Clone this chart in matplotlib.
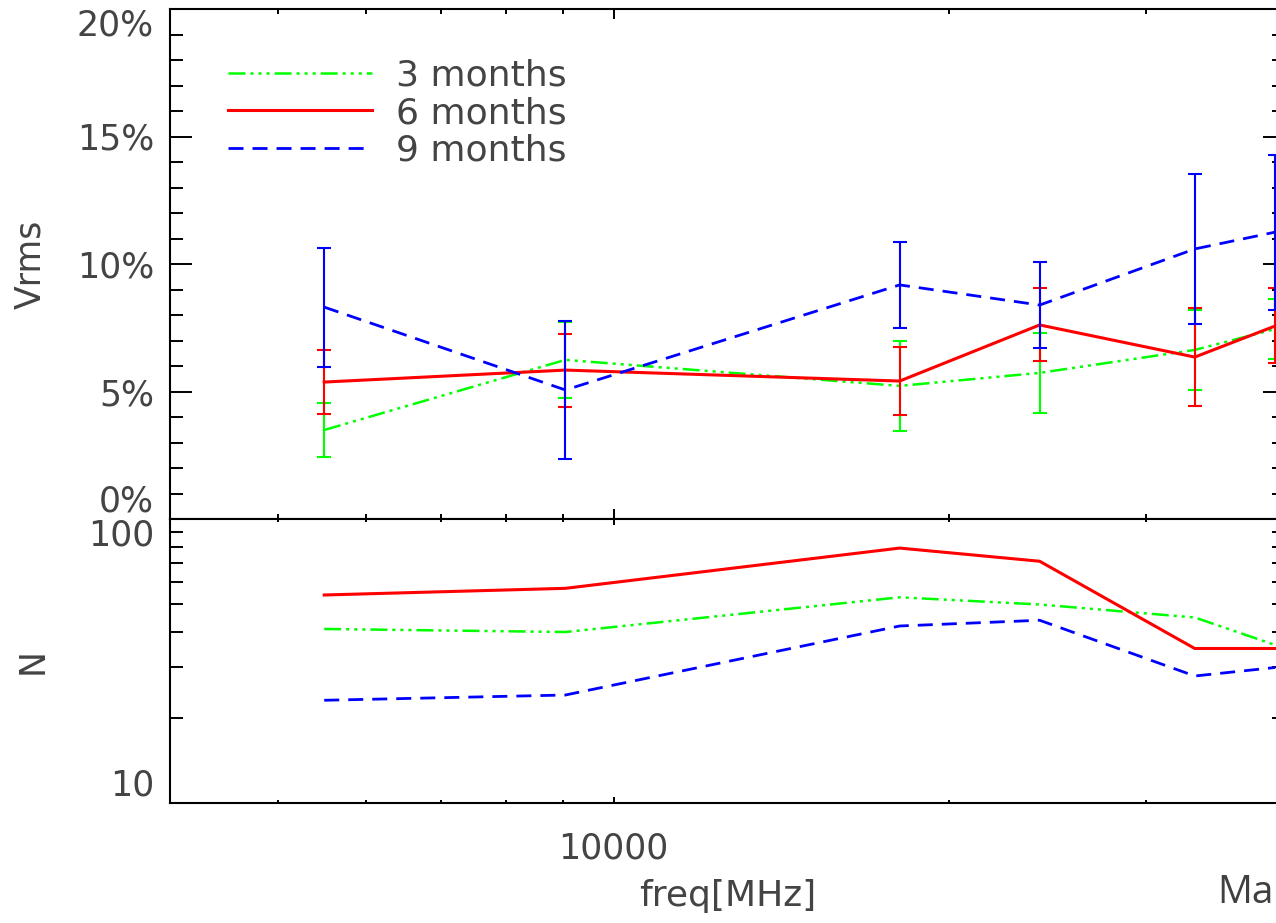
import numpy as np
import matplotlib
matplotlib.use('Agg')
import matplotlib.pyplot as plt
from matplotlib.ticker import FixedLocator, LogLocator, NullFormatter, MultipleLocator

# frequencies of the sample points [MHz]
freq = [5500, 9050, 18050, 24100, 33200, 39200]

# Vrms [%] and 1-sigma errors
vrms_3m = [3.49, 6.24, 5.22, 5.73, 6.63, 7.45]
err_3m = [1.04, 1.49, 1.75, 1.57, 1.57, 1.18]
vrms_6m = [5.37, 5.84, 5.41, 7.61, 6.35, 7.57]
err_6m = [1.24, 1.43, 1.33, 1.43, 1.92, 1.47]
vrms_9m = [8.31, 5.06, 9.18, 8.39, 10.59, 11.25]
err_9m = [2.33, 2.71, 1.69, 1.67, 2.94, 3.04]

# number of sources N
n_3m = [41, 40, 53, 50, 45, 36]
n_6m = [54, 57, 79, 71, 35, 35]
n_9m = [23, 24, 42, 44, 28, 30]

labels = ['3 months', '6 months', '9 months']
colors = ['#00ff00', '#ff0000', '#0000ff']

plt.rcParams['font.family'] = ['DejaVu Sans']
plt.rcParams['lines.scale_dashes'] = False
txt_col = '#444444'
fs = 25

# IDL-ish line styles (dash patterns in points)
styles = [(0, (12.2, 3.6, 2.2, 3.6, 2.2, 3.6, 2.2, 3.6)),
          '-',
          (0, (10.8, 6.5))]
widths = [1.8, 2.2, 2.0]

W, H = 1276, 923
fig = plt.figure(figsize=(W / 100, H / 100), dpi=100)
ax1 = fig.add_axes([170 / W, 1 - 519 / H, 1115 / W, 510 / H])
ax2 = fig.add_axes([170 / W, 1 - 803 / H, 1115 / W, 284 / H])

# ---- top panel: Vrms
series = [(vrms_3m, err_3m), (vrms_6m, err_6m), (vrms_9m, err_9m)]
handles = []
for i, (v, e) in enumerate(series):
    c = ax1.errorbar(freq, v, yerr=e, color=colors[i], ls=styles[i], lw=widths[i],
                     elinewidth=1.5, capsize=5, capthick=1.5, zorder=2 + i)
    handles.append(c.lines[0])

ax1.set_xscale('log')
ax1.set_xlim(4000, 40000)
ax1.set_ylim(0, 20)
ax1.set_yticks([0, 5, 10, 15, 20], ['0%', '5%', '10%', '15%', '20%'])
ax1.yaxis.set_minor_locator(MultipleLocator(1))
ax1.xaxis.set_major_locator(FixedLocator([10000]))
ax1.xaxis.set_minor_locator(LogLocator(base=10, subs=np.arange(2, 10)))
ax1.xaxis.set_minor_formatter(NullFormatter())
ax1.tick_params(axis='x', which='major', direction='in', length=7.2, width=1.4,
                top=True, bottom=True, labelbottom=False)
ax1.tick_params(axis='x', which='minor', direction='in', length=3.6, width=1.4,
                top=True, bottom=True)
ax1.tick_params(axis='y', which='major', direction='in', length=15.8, width=1.4,
                left=True, right=True, labelsize=fs, labelcolor=txt_col, pad=11.5)
ax1.tick_params(axis='y', which='minor', direction='in', length=9.4, width=1.4,
                left=True, right=True)
tl = ax1.get_yticklabels()
tl[0].set_va('bottom')
tl[-1].set_va('top')
ax1.set_ylabel('Vrms', fontsize=fs, color=txt_col)
ax1.yaxis.set_label_coords(-0.11, 0.5)

leg = ax1.legend(handles, labels, loc='upper left', bbox_to_anchor=(0.052, 0.903),
                 frameon=False, fontsize=26, handlelength=4.0, handletextpad=0.65,
                 borderaxespad=0, borderpad=0, labelspacing=0.1)
for t in leg.get_texts():
    t.set_color(txt_col)

# ---- bottom panel: N
for i, n in enumerate([n_3m, n_6m, n_9m]):
    ax2.plot(freq, n, color=colors[i], ls=styles[i], lw=widths[i], zorder=2 + i)

ax2.set_xscale('log')
ax2.set_yscale('log')
ax2.set_xlim(4000, 40000)
ax2.set_ylim(10, 100)
ax2.set_yticks([10, 100], ['10', '100'])
ax2.yaxis.set_minor_locator(LogLocator(base=10, subs=np.arange(2, 10)))
ax2.yaxis.set_minor_formatter(NullFormatter())
ax2.xaxis.set_major_locator(FixedLocator([10000]))
ax2.xaxis.set_major_formatter(plt.FixedFormatter(['10000']))
ax2.xaxis.set_minor_locator(LogLocator(base=10, subs=np.arange(2, 10)))
ax2.xaxis.set_minor_formatter(NullFormatter())
ax2.tick_params(axis='x', which='major', direction='in', length=4.3, width=1.4,
                top=True, bottom=True, labelsize=fs, labelcolor=txt_col, pad=20.5)
ax2.tick_params(axis='x', which='minor', direction='in', length=2.2, width=1.4,
                top=True, bottom=True)
ax2.tick_params(axis='y', which='major', direction='in', length=15.8, width=1.4,
                left=True, right=True, labelsize=fs, labelcolor=txt_col, pad=11.5)
ax2.tick_params(axis='y', which='minor', direction='in', length=9.4, width=1.4,
                left=True, right=True)
tl = ax2.get_yticklabels()
tl[0].set_va('bottom')
tl[-1].set_va('top')
ax2.set_ylabel('N', fontsize=fs, color=txt_col)
ax2.yaxis.set_label_coords(-0.108, 0.5)
ax2.set_xlabel('freq[MHz]', fontsize=26, color=txt_col)
ax2.xaxis.set_label_coords(0.5, -0.268)

for ax in (ax1, ax2):
    for s in ax.spines.values():
        s.set_linewidth(1.5)

fig.text(1217 / W, 1 - 903 / H, 'Ma', fontsize=28, color='#404040',
         family=['Open Sans', 'DejaVu Sans'], va='baseline')

fig.savefig('out.png', dpi=100)
